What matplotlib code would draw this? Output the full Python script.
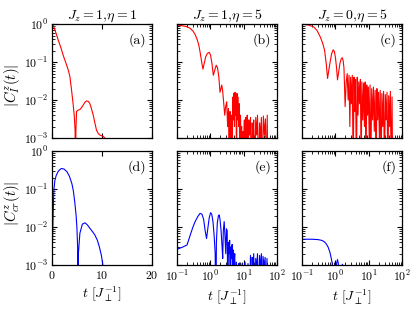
import numpy as np
import matplotlib
matplotlib.use("Agg")
import matplotlib.pyplot as plt

plt.rcParams.update({"font.family": "serif", "font.serif": ["cmr10"],
                     "mathtext.fontset": "cm", "axes.formatter.use_mathtext": True,
                     "font.size": 9, "axes.unicode_minus": False})

# ------- 数据 -------
# (a) Jz=1, eta=1, 线性 t
a_t = [0.0, 0.3, 0.7, 1.27, 1.8, 2.27, 2.8, 3.27, 3.6, 3.9, 4.2, 4.47, 4.65, 4.7, 4.8, 4.93, 5.2, 5.6, 6.0, 6.3, 6.6, 6.93, 7.3, 7.6, 7.9, 8.27, 8.6, 8.93, 9.3, 9.6, 10.3, 10.6, 11.0]
a_v = [1.0, 0.9, 0.65, 0.38, 0.24, 0.15, 0.095, 0.062, 0.042, 0.02, 0.009, 0.004, 0.0015, 1e-5, 0.0015, 0.005, 0.0054, 0.0056, 0.0065, 0.0075, 0.0087, 0.0095, 0.0092, 0.008, 0.006, 0.004, 0.0025, 0.0016, 0.0013, 0.0012, 0.0011, 0.001, 0.0008]

# (d) 同上, C_cr
d_t = [0.1, 0.25, 0.4, 0.6, 0.87, 1.3, 1.87, 2.4, 3.0, 3.5, 4.0, 4.3, 4.6, 4.85, 5.0, 5.15, 5.2, 5.3, 5.6, 6.1, 6.6, 7.1, 7.6, 8.1, 8.6, 9.1, 9.5, 9.9, 10.2, 10.4]
d_v = [0.0028, 0.02, 0.094, 0.17, 0.23, 0.3, 0.35, 0.34, 0.29, 0.22, 0.14, 0.09, 0.043, 0.02, 0.01, 0.003, 1e-5, 0.002, 0.0069, 0.012, 0.013, 0.0115, 0.0093, 0.0077, 0.0062, 0.0045, 0.003, 0.0018, 0.001, 0.0005]

# (b) Jz=1, eta=5, 对数 t
b_t = [0.1, 0.15, 0.2, 0.25, 0.3, 0.35, 0.4, 0.45, 0.5, 0.55, 0.6, 0.65, 0.73, 0.82, 0.93, 1.02, 1.12, 1.23, 1.35, 1.5, 1.65, 1.8, 1.95, 2.08, 2.2, 2.35, 2.5, 2.7, 2.9, 3.1,
       3.3, 3.5, 3.7, 3.9, 4.1, 4.3, 4.5, 4.7, 4.9, 5.1, 5.3, 5.5, 5.7, 5.9, 6.1, 6.3, 6.5, 6.8, 7.1, 7.4, 7.7, 8.0, 8.3, 8.7, 9.1, 9.5,
       10, 10.5, 11, 11.6, 12.2, 12.8, 13.5, 14.2, 15, 16, 17, 18, 19, 20, 21.5, 23, 24.5, 26, 28, 30, 32, 34, 36.5, 39, 42, 45, 48, 51, 52.5]
b_v = [0.94, 0.9, 0.85, 0.77, 0.66, 0.53, 0.4, 0.28, 0.17, 0.1, 0.065, 0.09, 0.14, 0.17, 0.18, 0.15, 0.09, 0.045, 0.06, 0.083, 0.07, 0.04, 0.016, 0.02, 0.025, 0.017, 0.009, 0.004, 0.007, 0.009,
       0.002, 0.006, 1e-4, 0.005, 0.001, 0.004, 1e-4, 0.012, 0.003, 0.015, 0.002, 0.016, 0.004, 0.013, 1e-4, 0.015, 0.003, 0.012, 0.002, 0.008, 1e-4, 0.004, 0.001, 0.002, 1e-4, 0.0015,
       0.0008, 0.003, 1e-4, 0.0035, 0.001, 0.004, 1e-4, 0.003, 0.0012, 0.0035, 1e-4, 0.0025, 0.001, 0.003, 1e-4, 0.0035, 0.0012, 0.004, 1e-4, 0.0025, 0.001, 0.0035, 1e-4, 0.0038, 0.0012, 0.0032, 1e-4, 0.004, 1e-4]

# (c) Jz=0, eta=5
c_t = [0.1, 0.15, 0.22, 0.28, 0.35, 0.41, 0.47, 0.53, 0.58, 0.63, 0.68, 0.76, 0.85, 0.93, 1.0, 1.08, 1.15, 1.25, 1.36, 1.48, 1.6, 1.7, 1.8, 1.95,
       2.1, 2.25, 2.4, 2.55, 2.7, 2.85, 3.0, 3.2, 3.4, 3.6, 3.8, 4.0, 4.25, 4.5, 4.75, 5.0, 5.3, 5.6, 5.9, 6.2, 6.6, 7.0, 7.4, 7.8, 8.2, 8.7, 9.2, 9.7,
       10.3, 10.9, 11.5, 12.2, 13, 13.8, 14.6, 15.5, 16.5, 17.5, 18.5, 19.6, 20.8, 22, 23.3, 24.7, 26.2, 27.8, 29.5, 31.3, 33.2, 35.2, 37.3, 39.5, 41.9, 44.4, 47, 49.8, 52]
c_v = [1.0, 0.95, 0.85, 0.68, 0.46, 0.32, 0.21, 0.09, 0.037, 0.06, 0.092, 0.16, 0.21, 0.19, 0.13, 0.07, 0.034, 0.055, 0.092, 0.12, 0.13, 0.11, 0.07, 0.0067,
        0.03, 0.05, 0.01, 0.045, 0.002, 0.04, 0.008, 0.045, 1e-4, 0.04, 0.005, 0.035, 1e-4, 0.04, 0.004, 0.03, 0.008, 0.035, 1e-4, 0.03, 0.003, 0.028, 0.002, 0.03, 1e-4, 0.025, 0.004, 0.022,
        0.001, 0.025, 1e-4, 0.02, 0.003, 0.022, 0.0015, 0.018, 1e-4, 0.02, 0.003, 0.016, 0.001, 0.018, 1e-4, 0.015, 0.002, 0.017, 1e-4, 0.014, 0.003, 0.016, 1e-4, 0.013, 0.002, 0.017, 1e-4, 0.012, 1e-4]

# (e) Jz=1, eta=5, C_cr
e_t = [0.1, 0.15, 0.2, 0.25, 0.3, 0.35, 0.42, 0.49, 0.56, 0.63, 0.7, 0.77, 0.85, 0.93, 1.02, 1.1, 1.2, 1.3, 1.4, 1.45, 1.52, 1.62, 1.75, 1.85, 1.95, 2.1, 2.25, 2.35, 2.45, 2.6, 2.75, 2.9, 3.05, 3.2, 3.35,
       3.5, 3.65, 3.8, 3.95, 4.1, 4.3, 4.5, 4.7, 4.9, 5.1, 5.4, 5.7, 6.0, 6.5, 7, 8, 9, 10, 11, 12, 13.5, 15, 16, 17, 18, 19, 20, 21.5, 23, 24.5, 26, 28, 30, 32, 34, 36, 38, 41, 44, 47, 50, 53]
e_v = [0.0026, 0.003, 0.0034, 0.0062, 0.010, 0.014, 0.019, 0.023, 0.022, 0.016, 0.008, 0.005, 0.01, 0.018, 0.024, 0.022, 0.014, 0.006, 0.002, 1e-5, 0.004, 0.013, 0.02, 0.021, 0.016, 0.008, 0.003, 0.0015, 0.008, 0.014, 0.006, 0.002, 0.009, 0.008, 1e-4,
       0.004, 0.002, 0.0045, 1e-4, 0.003, 0.0015, 0.0035, 1e-4, 0.0025, 0.001, 0.002, 1e-4, 0.0012, 1e-4, 0.0011, 1e-4, 0.0011, 1e-4, 0.0012, 1e-4, 0.0011, 1e-4, 0.0018, 1e-4, 0.0016, 0.0006, 0.002, 1e-4, 0.0015, 0.0008, 0.002, 1e-4, 0.0018, 0.0008, 0.002, 1e-4, 0.0017, 0.0009, 0.0016, 1e-4, 0.0015, 1e-4]

# (f) Jz=0, eta=5, C_cr
f_t = [0.1, 0.2, 0.3, 0.38, 0.45, 0.52, 0.6, 0.68, 0.75, 0.8, 0.84, 0.9, 0.98, 1.08, 1.15, 1.22, 1.28, 1.4, 1.55, 1.62, 1.7]
f_v = [0.0048, 0.0048, 0.0047, 0.0045, 0.0042, 0.0037, 0.003, 0.0022, 0.0015, 0.0011, 1e-5, 1e-5, 1e-5, 0.0011, 0.0014, 0.0011, 1e-5, 1e-5, 1e-5, 0.00105, 1e-5]

titles = [r"$J_z=1,\!\eta=1$", r"$J_z=1,\!\eta=5$", r"$J_z=0,\!\eta=5$"]
tags = ["(a)", "(b)", "(c)", "(d)", "(e)", "(f)"]
series = [(a_t, a_v), (b_t, b_v), (c_t, c_v), (d_t, d_v), (e_t, e_v), (f_t, f_v)]

# ------- 出图 -------
fig = plt.figure(figsize=(4.15, 3.13), dpi=100)
lefts = [0.125, 0.4265, 0.728]
bottoms = [0.559, 0.153]
w, h = 0.241, 0.364
for i in range(6):
    r, c = divmod(i, 3)
    ax = fig.add_axes([lefts[c], bottoms[r], w, h])
    t, v = series[i]
    ax.plot(t, v, color="red" if r == 0 else "blue", lw=0.8)
    ax.set_yscale("log"); ax.set_ylim(1e-3, 1)
    if c == 0:
        ax.set_xlim(0, 20); ax.set_xticks([0, 10, 20])
    else:
        ax.set_xscale("log"); ax.set_xlim(0.1, 100)
    ax.tick_params(which="both", direction="in", top=True, right=True, labelsize=8.5, pad=2.5)
    ax.tick_params(which="major", length=3.5)
    ax.tick_params(which="minor", length=2)
    if r == 0:
        ax.set_title(titles[c], fontsize=10, pad=4)
        ax.tick_params(labelbottom=False)
    else:
        ax.set_xlabel(r"$t\ [J_\perp^{-1}]$", fontsize=10, labelpad=3)
    if c != 0:
        ax.tick_params(labelleft=False)
    ax.text(0.94, 0.92, tags[i], transform=ax.transAxes, ha="right", va="top", fontsize=10)
    for s in ax.spines.values(): s.set_linewidth(0.9)

fig.text(0.03, 0.728, r"$|C_I^z(t)|$", rotation=90, ha="center", va="center", fontsize=10.5)
fig.text(0.03, 0.352, r"$|C_{cr}^z(t)|$", rotation=90, ha="center", va="center", fontsize=10.5)
fig.savefig("out.png", dpi=100)
